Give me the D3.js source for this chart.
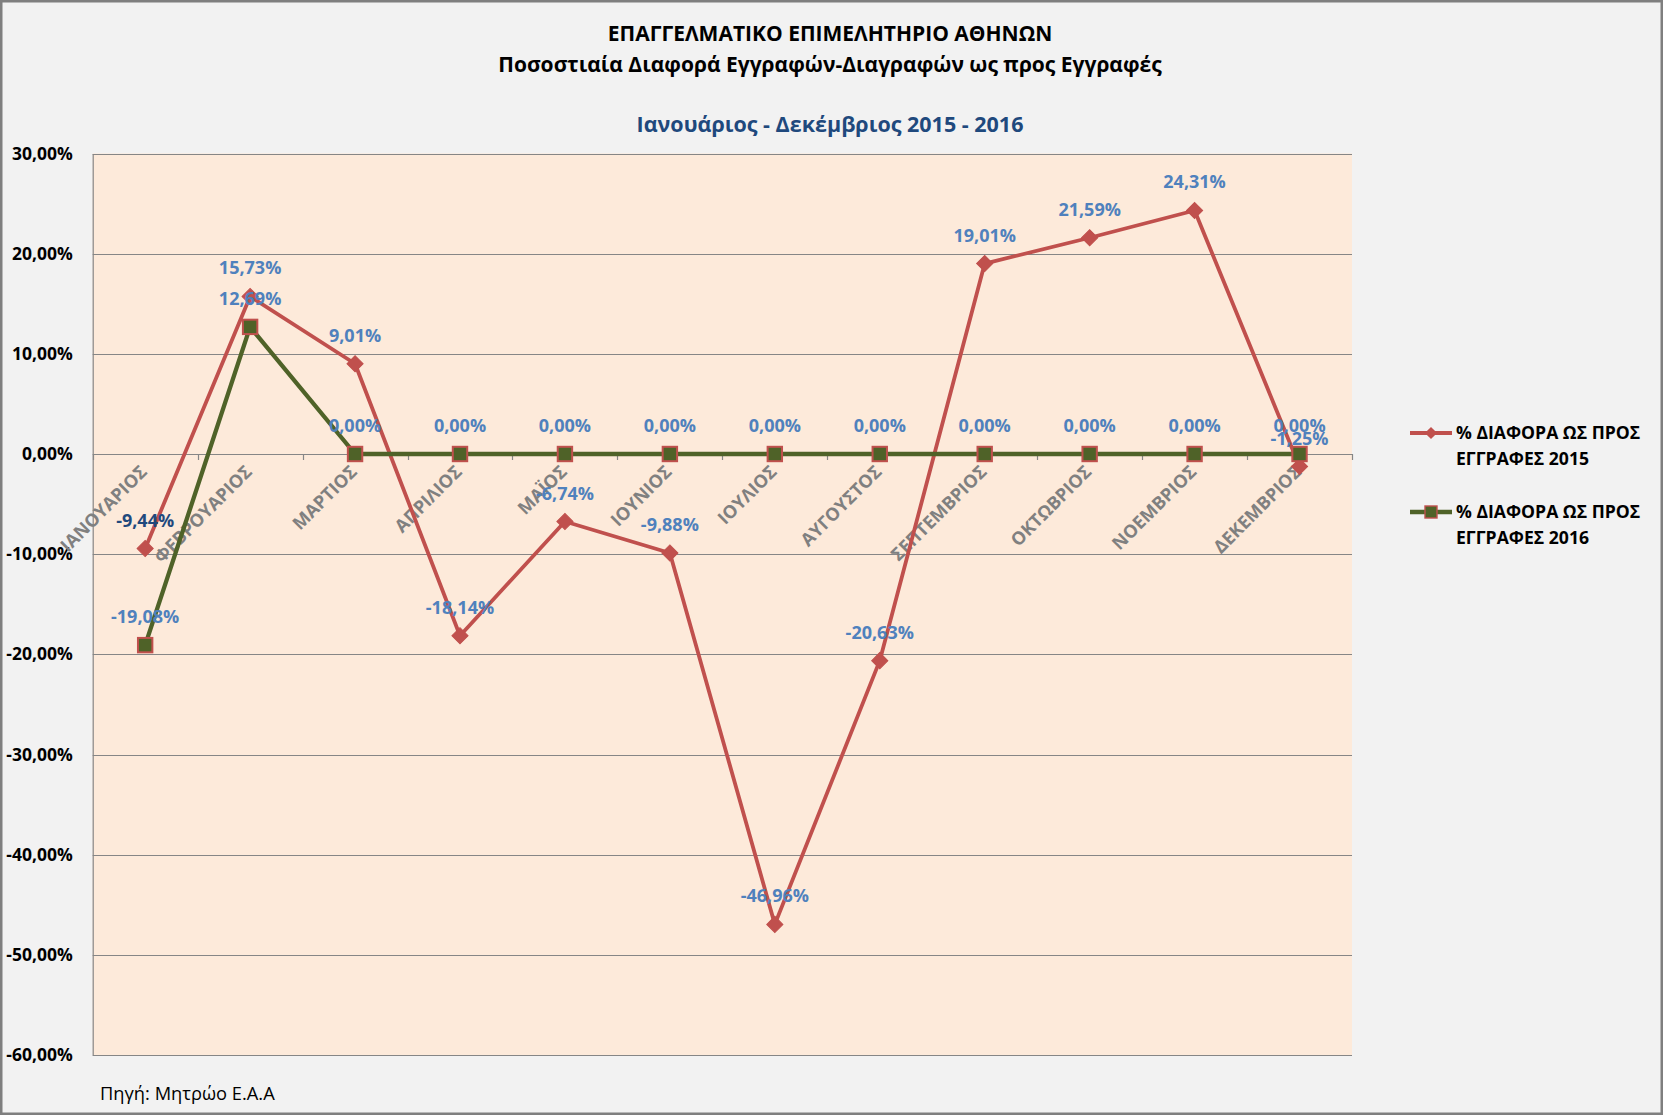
<!DOCTYPE html>
<html>
<head>
<meta charset="utf-8">
<script src="https://cdn.jsdelivr.net/npm/d3@7"></script>
<style>
  html, body { margin: 0; padding: 0; background: #F2F2F2; }
  svg { display: block; }
  text { font-family: "Open Sans", "Noto Sans", sans-serif; }
</style>
</head>
<body>
<script>
const months = ["ΙΑΝΟΥΑΡΙΟΣ","ΦΕΒΡΟΥΑΡΙΟΣ","ΜΑΡΤΙΟΣ","ΑΠΡΙΛΙΟΣ","ΜΑΪΟΣ","ΙΟΥΝΙΟΣ","ΙΟΥΛΙΟΣ","ΑΥΓΟΥΣΤΟΣ","ΣΕΠΤΕΜΒΡΙΟΣ","ΟΚΤΩΒΡΙΟΣ","ΝΟΕΜΒΡΙΟΣ","ΔΕΚΕΜΒΡΙΟΣ"];
const values2015 = [-9.44, 15.73, 9.01, -18.14, -6.74, -9.88, -46.96, -20.63, 19.01, 21.59, 24.31, -1.25];
const values2016 = [-19.08, 12.69, 0, 0, 0, 0, 0, 0, 0, 0, 0, 0];
const yTicks = [30, 20, 10, 0, -10, -20, -30, -40, -50, -60];
const seriesNames = [["% ΔΙΑΦΟΡΑ ΩΣ ΠΡΟΣ", "ΕΓΓΡΑΦΕΣ 2015"], ["% ΔΙΑΦΟΡΑ ΩΣ ΠΡΟΣ", "ΕΓΓΡΑΦΕΣ 2016"]];
const titleLines = ["ΕΠΑΓΓΕΛΜΑΤΙΚΟ ΕΠΙΜΕΛΗΤΗΡΙΟ ΑΘΗΝΩΝ", "Ποσοστιαία Διαφορά Εγγραφών-Διαγραφών ως προς Εγγραφές"];
const subtitle = "Ιανουάριος - Δεκέμβριος 2015 - 2016";
const source = "Πηγή: Μητρώο Ε.Α.Α";

const W = 1663, H = 1115;
const plot = { left: 92.7, right: 1352, top: 153.5, bottom: 1055 };

const fmt = v => v.toFixed(2).replace(".", ",") + "%";

const svg = d3.select("body").append("svg").attr("width", W).attr("height", H);

// chart background and border
svg.append("rect").attr("x", 1.25).attr("y", 1.25).attr("width", W - 2.5).attr("height", H - 2.5)
  .attr("fill", "#F2F2F2").attr("stroke", "#7F7F7F").attr("stroke-width", 2.5);

const x = d3.scaleBand().domain(months).range([plot.left, plot.right]).padding(0);
const y = d3.scaleLinear().domain([-60, 30]).range([plot.bottom, plot.top]);
const cx = m => x(m) + x.bandwidth() / 2;

// plot area
svg.append("rect").attr("x", plot.left).attr("y", plot.top)
  .attr("width", plot.right - plot.left).attr("height", plot.bottom - plot.top)
  .attr("fill", "#FDEADA");

// gridlines
svg.append("g").selectAll("line").data(yTicks).join("line")
  .attr("x1", plot.left).attr("x2", plot.right)
  .attr("y1", d => Math.round(y(d)) + 0.5).attr("y2", d => Math.round(y(d)) + 0.5)
  .attr("stroke", "#868686").attr("stroke-width", 1.2);

// y axis
const yAxis = d3.axisLeft(y).tickValues(yTicks).tickSize(0).tickPadding(20)
  .tickFormat(d => d.toFixed(2).replace(".", ",") + "%");
const gy = svg.append("g").attr("transform", `translate(${plot.left},0)`).call(yAxis);
gy.select(".domain").attr("stroke", "#868686").attr("stroke-width", 1.2);
gy.selectAll("text").attr("font-size", 17.5).attr("font-weight", "bold").attr("fill", "#000")
  .style("font-family", '"Open Sans", sans-serif');

// x axis at zero line
const boundaries = months.map(m => x(m)).concat([plot.right]);
svg.append("g").selectAll("line").data(boundaries).join("line")
  .attr("x1", d => Math.round(d) + 0.5).attr("x2", d => Math.round(d) + 0.5)
  .attr("y1", y(0)).attr("y2", y(0) + 6)
  .attr("stroke", "#868686").attr("stroke-width", 1.2);

svg.append("g").selectAll("text").data(months).join("text")
  .attr("transform", d => `translate(${cx(d) + 3},${y(0) + 19}) rotate(-45)`)
  .attr("text-anchor", "end")
  .attr("font-size", 18).attr("font-weight", "bold").attr("fill", "#808080")
  .text(d => d);

// lines
const line = d3.line().x((d, i) => cx(months[i])).y(d => y(d));

svg.append("path").datum(values2015).attr("d", line)
  .attr("fill", "none").attr("stroke", "#C0504D").attr("stroke-width", 3.8).attr("stroke-linejoin", "round");
svg.append("g").selectAll("path").data(values2015).join("path")
  .attr("transform", (d, i) => `translate(${cx(months[i])},${y(d)}) rotate(45)`)
  .attr("d", d3.symbol().type(d3.symbolSquare).size(130))
  .attr("fill", "#C0504D").attr("stroke", "#C0504D").attr("stroke-width", 1);

svg.append("path").datum(values2016).attr("d", line)
  .attr("fill", "none").attr("stroke", "#4F6228").attr("stroke-width", 4.3).attr("stroke-linejoin", "round");
svg.append("g").selectAll("rect").data(values2016).join("rect")
  .attr("x", (d, i) => cx(months[i]) - 7.2).attr("y", d => y(d) - 7.2)
  .attr("width", 14.4).attr("height", 14.4)
  .attr("fill", "#4F6228").attr("stroke", "#C0504D").attr("stroke-width", 2);

// data labels
svg.append("g").selectAll("text").data(values2015).join("text")
  .attr("x", (d, i) => cx(months[i])).attr("y", d => y(d) - 22)
  .attr("text-anchor", "middle").attr("font-size", 18).attr("font-weight", "bold")
  .attr("fill", (d, i) => i === 0 ? "#1F497D" : "#4F81BD")
  .text(d => fmt(d));
svg.append("g").selectAll("text").data(values2016).join("text")
  .attr("x", (d, i) => cx(months[i])).attr("y", d => y(d) - 22)
  .attr("text-anchor", "middle").attr("font-size", 18).attr("font-weight", "bold")
  .attr("fill", "#4F81BD")
  .text(d => fmt(d));

// titles
svg.append("text").attr("x", 830).attr("y", 41).attr("text-anchor", "middle")
  .attr("font-size", 21).attr("font-weight", "bold").attr("fill", "#000").text(titleLines[0]);
svg.append("text").attr("x", 830).attr("y", 72).attr("text-anchor", "middle")
  .attr("font-size", 21).attr("font-weight", "bold").attr("fill", "#000").text(titleLines[1]);
svg.append("text").attr("x", 830).attr("y", 132).attr("text-anchor", "middle")
  .attr("font-size", 21.5).attr("font-weight", "bold").attr("fill", "#1F497D").text(subtitle);

// legend
const legY = [433, 512];
const leg = svg.append("g");
leg.append("line").attr("x1", 1410).attr("x2", 1452).attr("y1", legY[0]).attr("y2", legY[0])
  .attr("stroke", "#C0504D").attr("stroke-width", 3.8);
leg.append("path").attr("transform", `translate(1431,${legY[0]}) rotate(45)`)
  .attr("d", d3.symbol().type(d3.symbolSquare).size(75)).attr("fill", "#C0504D");
leg.append("line").attr("x1", 1410).attr("x2", 1452).attr("y1", legY[1]).attr("y2", legY[1])
  .attr("stroke", "#4F6228").attr("stroke-width", 4.3);
leg.append("rect").attr("x", 1431 - 6).attr("y", legY[1] - 6).attr("width", 12).attr("height", 12)
  .attr("fill", "#4F6228").attr("stroke", "#C0504D").attr("stroke-width", 1.4);
seriesNames.forEach((lines, k) => {
  lines.forEach((t, j) => {
    leg.append("text").attr("x", 1456).attr("y", legY[k] + 6 + j * 26)
      .attr("font-size", 17.6).attr("font-weight", "bold").attr("fill", "#000").text(t);
  });
});

// source
svg.append("text").attr("x", 100).attr("y", 1100).attr("font-size", 18.3)
  .attr("fill", "#000").text(source);
</script>
</body>
</html>
